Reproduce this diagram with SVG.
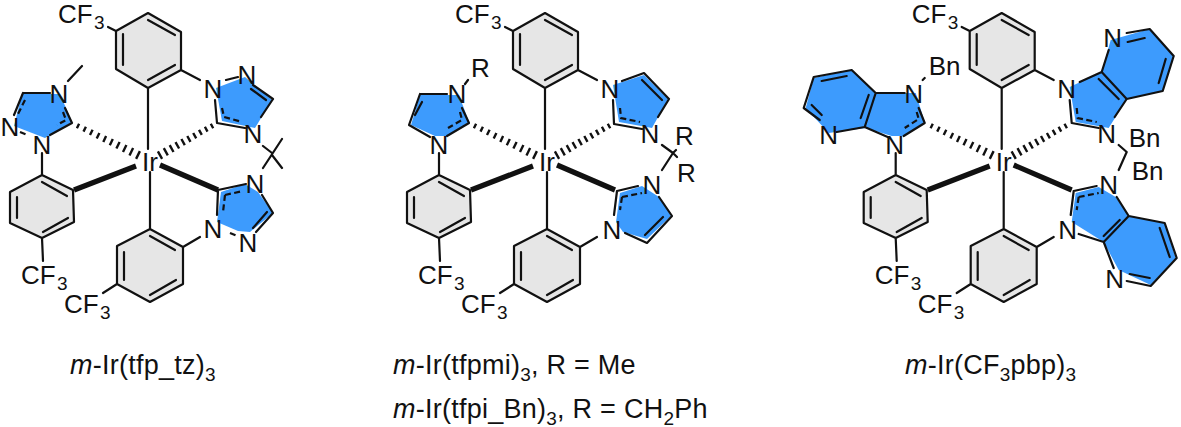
<svg xmlns="http://www.w3.org/2000/svg" width="1181" height="427" viewBox="0 0 1181 427">
<style>
text{font-family:"Liberation Sans",Arial,sans-serif;fill:#111}
.a{font-size:26px}
.n{font-size:26px;text-anchor:middle}
.s{font-size:19px}
.c{font-size:27px;letter-spacing:.25px}
.c2{font-size:19px}
.b{fill:none;stroke:#111;stroke-width:2.2;stroke-linecap:round;stroke-linejoin:round}
.d{fill:none;stroke:#111;stroke-width:2.2;stroke-dasharray:6 3.4}
.w{fill:none;stroke:#111;stroke-width:5.2}
.h{fill:none;stroke:#111;stroke-width:2.4}
.g{fill:#e6e6e6}
.bl{fill:#3d9bfd}
</style>
<defs>
<g id="core">
<path class="g" d="M148 13L181 32V70L148 88L116 69V31Z"/>
<path class="g" d="M150 229L183 247V284L150 302L117 284V246Z"/>
<path class="g" d="M42 175L73 190L74 222L42 238L10 223V192Z"/>
<path class="b" d="M148 13L181 32V70L148 88L116 69V31ZM148 20L175 35M123 34V65M148 80L175 65M108 27L116 31M148 88V149M181 70L200 80"/>
<path class="b" d="M150 229L183 247V284L150 302L117 284V246ZM150 236L175 250M124 252V280M150 295L176 280M117 284L103 293M150 172V229M183 247L200 237"/>
<path class="b" d="M42 175L73 190L74 222L42 238L10 223V192ZM42 182L67 196M17 197V218M43 232L68 218M42 238L43 261M42 175V153"/>
<path class="w" d="M74 190L136 166M160 165L218 190"/>
<path class="h" d="M79.1 123.75L76.9 128.25M85.9 126.8L83.5 131.6M92.6 129.8L90 135M99.4 132.9L96.7 138.5M106.1 135.9L103.3 141.9M112.8 139L109.8 145.2M119.6 142L116.4 148.6M126.4 145.1L123 152.1M133.1 148.1L129.5 155.5M139.9 151.1L136.1 158.9"/>
<path class="h" d="M213.2 128.2L210.8 123.8M207.5 131.6L204.9 126.8M201.8 134.9L199 129.9M196.2 138.4L193.2 133M190.5 141.8L187.3 136M184.8 145.2L181.4 139M179.1 148.5L175.5 142.1M173.5 152L169.7 145.2M167.8 155.4L163.8 148.2M162.1 158.8L157.9 151.3"/>
</g>
</defs>

<rect width="1181" height="427" fill="#fff"/>

<g id="m1">
<use href="#core"/>
<path class="bl" d="M22 94H60L72 122L45 138L14 126Z"/>
<path class="bl" d="M216 88L245 77L272 100L255 128L222 121Z"/>
<path class="bl" d="M221 192L245 184L258 192L273 213L250 232L238 231L217 222Z"/>
<path class="b" d="M23 93H50M23 93L14 115M65 108L72 123L50 135M68 81L82 66M226 80L238 77M253 85L273 99M251 89L266 100M273 99L261 117M217 123L245 128M217 123L215 100M263 146L272 153M282 139L263 168M272 155L282 168M218 190L246 184M218 190L217 215M262 195L273 213L256 232M267 212L253 228"/>
<path class="d" d="M25 100L18 114M63 112L66 120L57 125M20 132L27 135M222 108L224 117L242 122M225 195L223 212M225 195L243 191M230 233L237 236"/>
<text class="a" x="58" y="23">CF</text><text class="s" x="94" y="29">3</text>
<text class="a" x="21" y="284">CF</text><text class="s" x="57" y="290">3</text>
<text class="a" x="64" y="313">CF</text><text class="s" x="100" y="319">3</text>
<text class="a" x="142" y="171">Ir</text>
<text class="n" x="59" y="102.5">N</text>
<text class="n" x="10" y="135.5">N</text>
<text class="n" x="42" y="153.5">N</text>
<text class="n" x="213" y="97.5">N</text>
<text class="n" x="247" y="83.5">N</text>
<text class="n" x="253" y="142.5">N</text>
<text class="n" x="255" y="192.5">N</text>
<text class="n" x="213" y="237.5">N</text>
<text class="n" x="248" y="251.5">N</text>
</g>

<g id="m2" transform="translate(397 0)">
<use href="#core"/>
<path class="bl" d="M23 95H62L72 122L50 136H38L14 125Z"/>
<path class="bl" d="M216 85L247 75L271 99L255 128L222 122Z"/>
<path class="bl" d="M223 193L245 186L262 197L274 216L250 239L226 232L219 222Z"/>
<path class="b" d="M23 94H50M23 94L12 125L33 137M25 102L18 115M65 108L72 123L50 136M68 84L71 80M225 81L247 73L272 99L261 117M245 80L265 100M217 124L245 129M217 124L216 100M265 145L276 153L265 170M276 153L279 150M276 153L280 157M220 191L241 186M220 191L217 215M262 197L275 216L250 243L228 233M266 217L248 235"/>
<path class="d" d="M63 112L65 120L51 128M223 108L224 118L243 122M225 197L223 210M225 197L245 193"/>
<text class="a" x="58" y="23">CF</text><text class="s" x="94" y="29">3</text>
<text class="a" x="21" y="284">CF</text><text class="s" x="57" y="290">3</text>
<text class="a" x="64" y="313">CF</text><text class="s" x="100" y="319">3</text>
<text class="a" x="142" y="171">Ir</text>
<text class="n" x="60" y="103">N</text>
<text class="n" x="42" y="153.5">N</text>
<text class="n" x="213" y="97.5">N</text>
<text class="n" x="253" y="142.5">N</text>
<text class="n" x="255" y="194">N</text>
<text class="n" x="215" y="239">N</text>
<text class="a" x="74" y="77">R</text>
<text class="a" x="278" y="145">R</text>
<text class="a" x="280" y="182">R</text>
</g>

<g id="m3" transform="translate(853.7 0)">
<use href="#core"/>
<path class="bl" d="M22 93H62L71 122L50 136H38L12 128L-25 133L-48 108L-40 78L-2 70Z"/>
<path class="bl" d="M216 87L248 72L257 40L296 29L320 56L309 91L273 99L255 128L222 122Z"/>
<path class="bl" d="M222 193L245 187L262 197L275 216L311 223L322 258L297 285L265 270L250 242L218 222Z"/>
<path class="b" d="M22 93H51M22 93L11 127L34 137M15 95L7 118M65 108L71 123L50 136M11 127L-17 132M22 93L-2 70L-40 77L-50 108L-34 120M-7 76L-32 81M-42 105L-32 115M69 80L71 78M226 82L248 72L273 99L261 117M245 79L265 99M248 72L255 50M273 33L296 29L320 56L309 91L273 99M274 42L291 38M312 59L305 83M218 123L245 128M218 123L216 100M265 145L273 152L265 170M220 191L243 186M220 191L217 215M263 197L275 216L250 242L260 268M266 220L250 236M275 216L311 223L323 258L297 286L273 281M306 228L316 257M296 278L276 274M250 242L225 234"/>
<path class="d" d="M63 112L65 119L51 128M223 108L224 118L243 122M225 197L223 210M225 197L245 193"/>
<text class="a" x="58" y="23">CF</text><text class="s" x="94" y="29">3</text>
<text class="a" x="21" y="284">CF</text><text class="s" x="57" y="290">3</text>
<text class="a" x="64" y="313">CF</text><text class="s" x="100" y="319">3</text>
<text class="a" x="142" y="171">Ir</text>
<text class="n" x="60" y="102.5">N</text>
<text class="n" x="-25" y="144">N</text>
<text class="n" x="41" y="153.5">N</text>
<text class="n" x="213" y="98">N</text>
<text class="n" x="259" y="47">N</text>
<text class="n" x="253" y="142.5">N</text>
<text class="n" x="255" y="194">N</text>
<text class="n" x="214" y="239">N</text>
<text class="n" x="261" y="288">N</text>
<text class="a" x="75" y="75">Bn</text>
<text class="a" x="275" y="147">Bn</text>
<text class="a" x="278" y="180">Bn</text>
</g>

<g id="captions">
<text class="c" x="70" y="374"><tspan font-style="italic">m</tspan>-Ir(tfp_tz)<tspan class="c2" dy="7">3</tspan></text>
<text class="c" x="393" y="374"><tspan font-style="italic">m</tspan>-Ir(tfpmi)<tspan class="c2" dy="7">3</tspan><tspan dy="-7">, R = Me</tspan></text>
<text class="c" x="393" y="418"><tspan font-style="italic">m</tspan>-Ir(tfpi_Bn)<tspan class="c2" dy="7">3</tspan><tspan dy="-7">, R = CH</tspan><tspan class="c2" dy="7">2</tspan><tspan dy="-7">Ph</tspan></text>
<text class="c" x="905" y="374"><tspan font-style="italic">m</tspan>-Ir(CF<tspan class="c2" dy="7">3</tspan><tspan dy="-7">pbp)</tspan><tspan class="c2" dy="7">3</tspan></text>
</g>
</svg>
